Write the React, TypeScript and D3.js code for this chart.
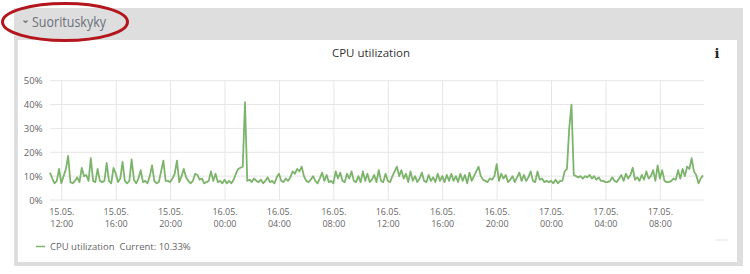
import React from "react";
import * as d3 from "d3";

const title = "CPU utilization";
const sectionTitle = "Suorituskyky";
const seriesName = "CPU utilization";
const currentLabel = "Current: 10.33%";
const yTicks = [0, 10, 20, 30, 40, 50];
const startTime = new Date(2023, 4, 15, 11, 8);
const stepMinutes = 10;
// CPU utilization (%) every 10 minutes
const cpuValues = [
  11.5, 9, 7, 8, 13, 7, 10, 13, 18.5, 7.5,
  7, 8, 9.5, 7.5, 13.5, 10, 10.5, 8, 17.5, 8,
  7.5, 13, 8, 7.5, 8, 15.5, 8, 7, 13.5, 11,
  7.5, 9, 16, 8, 7, 8, 17, 8.5, 7, 9,
  12.5, 7.5, 8, 7, 10, 14.5, 8, 7, 7.5, 12,
  16.5, 8, 8, 7.5, 9, 11, 16.5, 7.5, 10, 13,
  9.5, 8, 7, 8, 11, 10.5, 8.5, 9, 7, 7.5,
  8, 12, 8, 11, 7.5, 8, 7, 8.5, 7, 8,
  7, 8.5, 11, 13, 13.5, 14, 41, 8, 8.5, 7.5,
  9, 8, 7.5, 8.5, 7, 8, 9.5, 7.5, 8, 7,
  9.5, 11, 8, 7.5, 9, 8, 9.5, 12, 11, 13,
  12, 14, 10, 8, 7.5, 8.5, 10, 8, 7, 9,
  11.5, 8, 10.5, 7.5, 8, 7, 12, 9, 11.5, 8,
  7.5, 11, 9, 12, 8, 7.5, 10, 7.5, 12, 8,
  11, 7.5, 8.5, 10.5, 7.5, 12.5, 8, 7.5, 11, 8,
  7.5, 10, 12, 14, 10, 12.5, 9, 11, 7.5, 12,
  8, 10, 7.5, 9, 11.5, 8, 7.5, 10.5, 8, 9.5,
  7.5, 11, 8, 10, 7.5, 10.5, 8, 11, 8, 10,
  7.5, 11, 8, 10.5, 7, 11.5, 8, 10, 12, 14,
  10, 8.5, 8, 7.5, 9, 8.5, 10, 15, 8, 11,
  9, 10.5, 7.5, 8.5, 10, 7.5, 9.5, 11.5, 8, 10.5,
  8, 9.5, 12, 8, 7.5, 12, 8.5, 9, 7.5, 8,
  7.5, 8, 7, 8.5, 7, 8, 8, 12, 13, 30,
  40, 10.5, 10, 9.5, 10, 9, 10, 9.5, 10.5, 9,
  10, 8.5, 9.5, 8, 8, 7.5, 7.5, 8, 9.5, 8,
  7.5, 9, 10.5, 8, 11, 9, 10.5, 13.5, 8.5, 9.5,
  8, 10.5, 8.5, 12, 9, 10, 12.5, 8, 14.5, 9,
  12.5, 8, 7.5, 7.5, 8, 9, 8.5, 12.5, 9, 13,
  10, 14, 13, 17.5, 12, 10.5, 7, 9, 10.33,
];

const FONT = "'Open Sans', 'Noto Sans', sans-serif";

export default function App() {
  const W = 750;
  const H = 274;
  const plotLeft = 50;
  const plotRight = 703;
  const plotTop = 80.7;
  const plotBottom = 200;

  const data = cpuValues.map((v, i) => ({
    t: new Date(startTime.getTime() + i * stepMinutes * 60000),
    v,
  }));
  const x = d3
    .scaleTime()
    .domain([data[0].t, data[data.length - 1].t])
    .range([plotLeft, plotRight]);
  const y = d3.scaleLinear().domain([0, 50]).range([plotBottom, plotTop]);
  const xTicks = x.ticks(d3.timeHour.every(4) as any);
  const fmtDate = d3.timeFormat("%d.%m.");
  const fmtTime = d3.timeFormat("%H:%M");
  const line = d3
    .line<{ t: Date; v: number }>()
    .x((d) => x(d.t))
    .y((d) => y(d.v));

  return (
    <div style={{ position: "absolute", left: 0, top: 0 }}>
      <svg width={W} height={H} style={{ display: "block" }} fontFamily={FONT}>
        <rect x={0} y={0} width={W} height={H} fill="#ffffff" />
        <rect x={14} y={8} width={729} height={258} fill="#dedede" />
        <rect x={18} y={40} width={719} height={222} fill="#ffffff" />
        {/* header */}
        <path d="M23.5,20.5 L25.5,22.5 L27.5,20.5" fill="none" stroke="#6b707a" strokeWidth={1.2} />
        <text x={32} y={27} fontSize={14} fill="#6b707a" textLength={74} lengthAdjust="spacingAndGlyphs">
          {sectionTitle}
        </text>
        <ellipse cx={65} cy={22} rx={62.5} ry={18.5} fill="none" stroke="#b3161c" strokeWidth={3} />
        {/* title */}
        <text x={371} y={57} fontSize={11.5} fill="#333" textAnchor="middle">
          {title}
        </text>
        <text x={717} y={58} fontSize={13} fontWeight="bold" fill="#222" textAnchor="middle" fontFamily="'DejaVu Serif', serif">
          i
        </text>
        {/* grid */}
        {yTicks.map((t) => (
          <g key={"y" + t}>
            <line x1={plotLeft} x2={plotRight + 1} y1={y(t)} y2={y(t)} stroke="#e6e6e6" strokeWidth={1} />
            <text x={42.5} y={y(t) + 3.5} fontSize={9.5} fill="#666" textAnchor="end">
              {t + "%"}
            </text>
          </g>
        ))}
        {xTicks.map((t, i) => (
          <g key={"x" + i}>
            <line x1={x(t)} x2={x(t)} y1={plotTop} y2={plotBottom} stroke="#e6e6e6" strokeWidth={1} />
            <text x={x(t)} y={215} fontSize={9} fill="#666" textAnchor="middle">
              {fmtDate(t)}
            </text>
            <text x={x(t)} y={227} fontSize={9} fill="#666" textAnchor="middle">
              {fmtTime(t)}
            </text>
          </g>
        ))}
        <path d={line(data) || ""} fill="none" stroke="#7db46c" strokeWidth={1.8} strokeLinejoin="round" />
        {/* legend */}
        <line x1={36} x2={45} y1={246.5} y2={246.5} stroke="#7db46c" strokeWidth={1.5} />
        <text x={50} y={250} fontSize={9.5} fill="#666">
          {seriesName}
          <tspan dx={5}>{currentLabel}</tspan>
        </text>
        <line x1={716} x2={728} y1={240} y2={240} stroke="#e0e0e0" strokeWidth={1} />
      </svg>
    </div>
  );
}
